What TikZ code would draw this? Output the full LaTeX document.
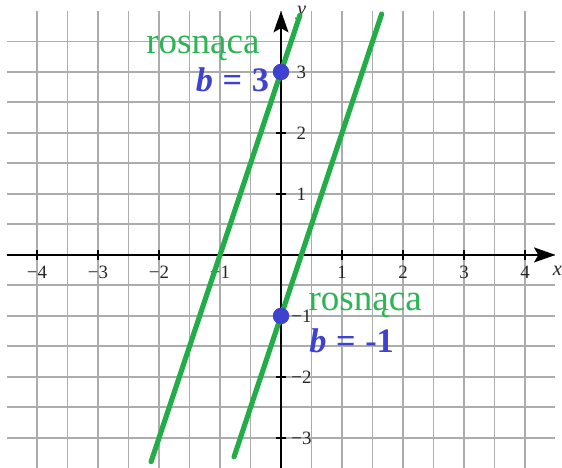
\documentclass[tikz,border=0pt]{standalone}
\usepackage{fontspec}
\setmainfont{Liberation Serif}
\usetikzlibrary{arrows.meta}
\definecolor{gridgray}{RGB}{172,172,172}
\definecolor{lgreen}{RGB}{35,172,72}
\definecolor{tgreen}{RGB}{45,180,85}
\definecolor{dblue}{RGB}{62,66,206}
\begin{document}
\begin{tikzpicture}[x=1cm,y=1cm,
  gridline/.style={gridgray, line width=0.9pt},
  axisline/.style={black, line width=0.7pt, -{Stealth[length=10pt,width=7pt,inset=2pt]}},
  tickmark/.style={black, line width=0.8pt},
  ticklbl/.style={font=\fontsize{8.8}{10}\selectfont, text=black!85, inner sep=0pt},
  axlbl/.style={font=\fontsize{9.5}{11}\selectfont\itshape, text=black!85, inner sep=0pt},
  fnline/.style={lgreen, line width=2.4pt, line cap=round},
  ptdot/.style={circle, fill=dblue, inner sep=0pt, minimum size=0.27cm},
  monolbl/.style={font=\fontsize{17.3}{20}\selectfont, text=tgreen, inner sep=0pt, anchor=base, text height=0.5em, text depth=0pt},
  blbl/.style={font=\fontsize{16}{19}\selectfont\bfseries, text=dblue, inner sep=0pt, anchor=base}
]
\useasboundingbox (-4.607,-3.492) rectangle (4.607,4.180);
\clip (-4.607,-3.492) rectangle (4.607,4.180);
% grid
\foreach \x in {-4,-3.5,...,4.1} \draw[gridline] (\x,-3.6) -- (\x,4.0);
\foreach \y in {-3,-2.5,...,3.6} \draw[gridline] (-4.5,\y) -- (4.5,\y);
% axes
\coordinate (xs) at (-4.5,0);
\coordinate (xe) at (4.5,0);
\coordinate (ys) at (0,-3.6);
\coordinate (ye) at (0,4.0);
\draw[axisline] (xs) -- (xe);
\draw[axisline] (ys) -- (ye);
% ticks and labels
\foreach \x/\t in {-4/−4,-3/−3,-2/−2,-1/−1,1/1,2/2,3/3,4/4} {
  \draw[tickmark] (\x,-0.08) -- (\x,0.08);
  \node[ticklbl] (tx\x) at (\x,-0.29) {\t};
}
\foreach \y/\t in {-3/−3,-2/−2,-1/−1,1/1,2/2,3/3} {
  \draw[tickmark] (-0.08,\y) -- (0.08,\y);
  \node[ticklbl] (ty\y) at (0.335,\y) {\t};
}
\node[axlbl] (xl) at (4.53,-0.26) {x};
\node[axlbl] (yl) at (0.34,3.97) {y};
% lines
\coordinate (l1a) at (-2.13,-3.39);
\coordinate (l1b) at (0.31,3.93);
\coordinate (l2a) at (-0.77,-3.31);
\coordinate (l2b) at (1.65,3.95);
\draw[fnline] (l1a) -- (l1b);
\draw[fnline] (l2a) -- (l2b);
% points
\node[ptdot] (p3) at (0,3) {};
\node[ptdot] (pm1) at (0,-1) {};
% labels
\node[monolbl] (r1) at (-1.28,3.31) {rosnąca};
\node[blbl] (b1) at (-0.795,2.68) {{\itshape b}\hspace{0.28em}=\hspace{0.28em}3};
\node[monolbl] (r2) at (1.38,-0.91) {rosnąca};
\node[blbl] (b2) at (1.158,-1.595) {{\itshape b}\hspace{0.28em}=\hspace{0.28em}-1};
\end{tikzpicture}
\end{document}
